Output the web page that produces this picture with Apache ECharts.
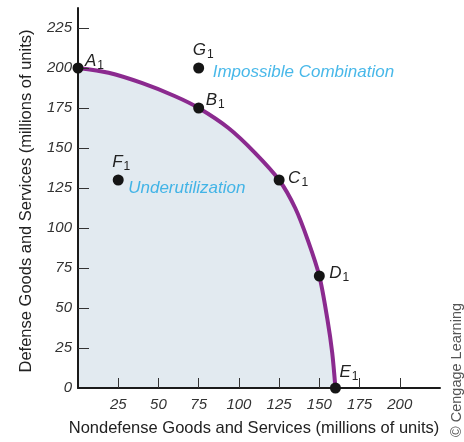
<!DOCTYPE html>
<html>
<head>
<meta charset="utf-8">
<script src="https://cdn.jsdelivr.net/npm/echarts@6/dist/echarts.min.js"></script>
<style>html,body{margin:0;padding:0;background:#fff}#c{width:464px;height:442px}</style>
</head>
<body>
<div id="c"></div>
<script>
// Data
const ppfCurve = [[0,200],[19,197],[40,190.5],[60,182.5],[75,175],[93.5,162.5],[110,147],[125,130],[135,112.5],[143,92],[150,70],[155,43],[158,22],[160,0]];
const pointNames = ['A','B','C','D','E','F','G'];
const pointValues = [[0,200],[75,175],[125,130],[150,70],[160,0],[25,130],[75,200]];
const noteTexts = ['Impossible Combination','Underutilization'];
const notePoints = [[75,200],[25,130]];
const xTickValues = [25,50,75,100,125,150,175,200];
const yTickValues = [25,50,75,100,125,150,175,200,225];
const yLabelValues = [0,25,50,75,100,125,150,175,200,225];
const xName = 'Nondefense Goods and Services (millions of units)';
const yName = 'Defense Goods and Services (millions of units)';
const credit = '\u00A9 Cengage Learning';

const labelOffsets = {A:[-3.5,-7],B:[-3.5,-8],C:[-1.5,-2],D:[-0.5,-3],E:[-6.5,-16],F:[-16.5,-18],G:[-16.5,-18]};
const noteOffsets = [[3.5,4],[-0.5,8]];

const chart = echarts.init(document.getElementById('c'), null, {renderer:'canvas'});
const labelFont = 'Liberation Sans';
const axisCommon = {
  type:'value', splitLine:{show:false}, z:3,
  axisLine:{show:true, lineStyle:{color:'#1a1a1a', width:2}},
  axisTick:{show:true, inside:true, length:10, lineStyle:{color:'#333', width:1}},
  axisLabel:{color:'#333', fontStyle:'italic', fontFamily:labelFont, fontSize:15},
  nameLocation:'middle'
};
chart.setOption({
  animation:false,
  grid:{left:78, right:24, top:8, bottom:53},
  xAxis:Object.assign({}, axisCommon, {
    min:0, max:225, interval:25,
    axisTick:Object.assign({}, axisCommon.axisTick, {customValues:xTickValues}),
    axisLabel:Object.assign({}, axisCommon.axisLabel, {customValues:xTickValues, margin:9}),
    name:xName, nameGap:32,
    nameTextStyle:{color:'#222', fontFamily:labelFont, fontSize:16.5, padding:[0,10,0,0]}
  }),
  yAxis:Object.assign({}, axisCommon, {
    min:0, max:237.5, interval:25,
    axisTick:Object.assign({}, axisCommon.axisTick, {customValues:yTickValues, length:11}),
    axisLabel:Object.assign({}, axisCommon.axisLabel, {customValues:yLabelValues, margin:6}),
    name:yName, nameGap:43,
    nameTextStyle:{color:'#222', fontFamily:labelFont, fontSize:16.5, padding:[0,6,0,0]}
  }),
  series:[
    {
      type:'line', data:ppfCurve, smooth:0.3, showSymbol:false, symbol:'none',
      lineStyle:{color:'#8b2a8f', width:4},
      areaStyle:{color:'#e2eaf0', opacity:1},
      z:2
    },
    {
      type:'scatter', symbolSize:11, itemStyle:{color:'#151515', opacity:1}, z:5,
      data:pointValues.map((v,i)=>({
        value:v, name:pointNames[i],
        label:{show:true, position:'right', distance:5, offset:labelOffsets[pointNames[i]],
          formatter:'{m|'+pointNames[i]+'}{s|1}',
          rich:{
            m:{fontFamily:labelFont, fontStyle:'italic', fontSize:17, color:'#222'},
            s:{fontFamily:labelFont, fontSize:12, color:'#222', padding:[10,0,0,1]}
          }}
      }))
    },
    {
      type:'scatter', symbolSize:11, itemStyle:{color:'rgba(0,0,0,0)'}, z:4, silent:true,
      data:notePoints.map((v,i)=>({
        value:v,
        label:{show:true, position:'right', distance:5, offset:noteOffsets[i],
          formatter:noteTexts[i], color:'#1aa6e4', fontFamily:labelFont, fontStyle:'italic', fontSize:17}
      }))
    }
  ],
  graphic:[{
    type:'text', x:449, y:437, rotation:Math.PI/2,
    style:{text:credit, fill:'#555', font:'14.5px "Liberation Sans"', textAlign:'left', textVerticalAlign:'top'}
  }]
});
</script>
</body>
</html>
